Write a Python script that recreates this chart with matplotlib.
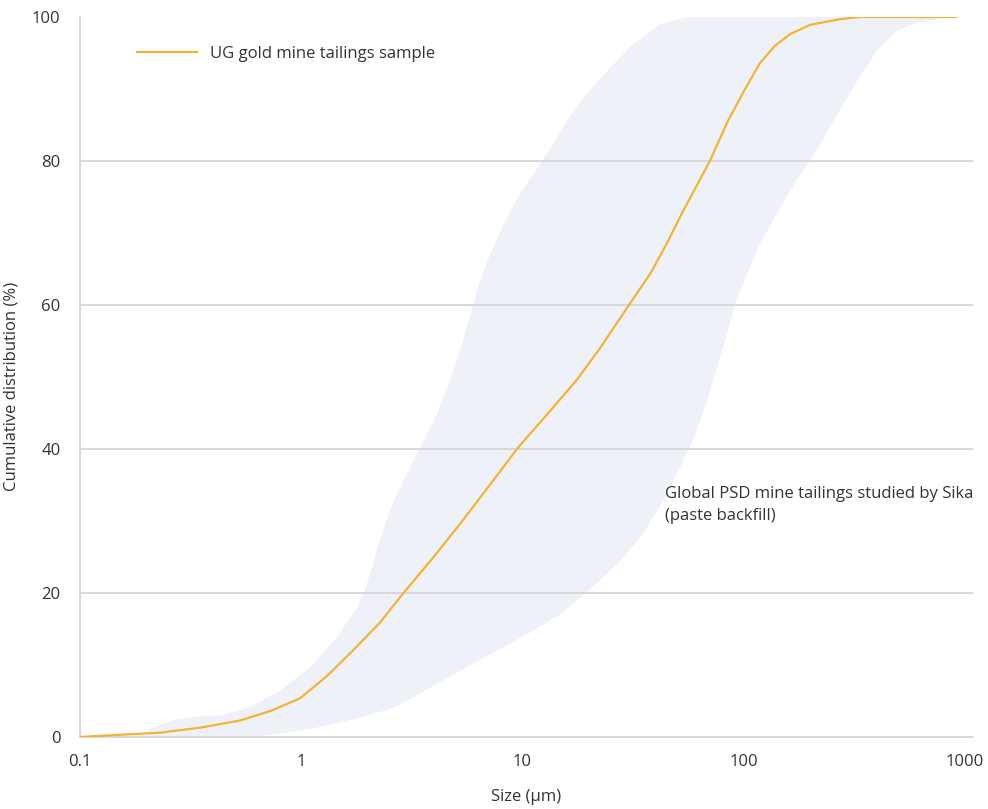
import matplotlib
matplotlib.use("Agg")
import matplotlib.pyplot as plt
import numpy as np

plt.rcParams['font.family'] = ['Open Sans', 'DejaVu Sans']

# UG gold mine tailings sample (size um, cumulative %)
sample_size = [0.1, 0.15, 0.23, 0.35, 0.53, 0.74, 0.99, 1.31, 1.71, 2.27, 2.88, 3.94,
               5.22, 7.36, 9.55, 13.6, 17.6, 22.4, 30.6, 37.9, 45, 53.1, 70.3, 84.9,
               101.4, 118.4, 138.3, 161.7, 199, 272, 335, 913]
sample_cum = [0, 0.3, 0.6, 1.3, 2.3, 3.7, 5.4, 8.5, 12, 15.9, 19.9, 24.9,
              29.6, 35.6, 40.2, 45.6, 49.6, 54, 60.2, 64.4, 68.6, 73, 80, 85.6,
              90, 93.6, 96, 97.6, 98.9, 99.7, 100, 100]

# Global PSD envelope: fine (left) boundary
fine_size = [0.17, 0.19, 0.23, 0.275, 0.35, 0.43, 0.57, 0.78, 1.1, 1.45, 1.63, 1.79, 1.94,
             2.09, 2.22, 2.39, 2.6, 2.88, 3.23, 3.63, 4.11, 4.7, 5.33, 5.85, 6.36, 7.13,
             8.16, 9.54, 11.1, 12.9, 15.9, 19.6, 24.1, 31.6, 41.8, 55.4]
fine_cum = [0, 0.4, 1.8, 2.5, 2.9, 3.0, 4.0, 6.2, 9.7, 13.9, 16.2, 18, 20.5,
            23.5, 26.5, 29.5, 32.5, 35.5, 38.5, 41.5, 45, 49.5, 54.5, 59, 63, 67,
            71, 75, 78, 81, 85.6, 89.4, 92.5, 96.2, 99, 100]
# coarse (right) boundary
coarse_size = [0.6, 0.652, 1.1, 1.85, 2.6, 3.44, 5.22, 7.91, 10.8, 14.8, 20.2, 27.6,
               35.1, 43.2, 51.5, 60.3, 68.3, 75.7, 84.0, 92.2, 102.4, 118.4, 142.8,
               170.6, 199, 233, 272, 325, 400, 493, 607, 855]
coarse_cum = [0, 0.1, 1.1, 2.7, 4.0, 6.0, 9.2, 12.2, 14.5, 17, 20.5, 24.4,
              28.2, 32.8, 37.4, 42, 46.7, 51.3, 56, 60.5, 64, 68.5, 73,
              77, 80, 83.5, 87, 91.1, 95.3, 98.1, 99.2, 100]

x_ticks = [0.1, 1, 10, 100, 1000]
x_tick_labels = ['0.1', '1', '10', '100', '1000']
y_ticks = [0, 20, 40, 60, 80, 100]

fig = plt.figure(figsize=(9.88, 8.09), dpi=100)
ax = fig.add_axes([80/988, 1-737/809, (973-80)/988, (737-17)/809])

poly_x = np.concatenate([fine_size, coarse_size[::-1]])
poly_y = np.concatenate([fine_cum, coarse_cum[::-1]])
ax.fill(poly_x, poly_y, color='#eef2f8', lw=0, zorder=1)

for yv in [20, 40, 60, 80]:
    ax.axhline(yv, color='#d4d6da', lw=1.3, zorder=2)

ax.plot(sample_size, sample_cum, color='#f5b234', lw=1.6, zorder=3,
        label='UG gold mine tailings sample', solid_joinstyle='round')

ax.set_xscale('log')
ax.set_xlim(0.1, 1087)
ax.set_ylim(0, 100)
ax.set_xticks(x_ticks)
ax.set_xticklabels(x_tick_labels)
ax.minorticks_off()
ax.set_yticks(y_ticks)
ax.tick_params(length=0, labelsize=12, colors='#333333', pad=14)
ax.tick_params(axis='x', pad=12)
for s in ['top', 'right']:
    ax.spines[s].set_visible(False)
for s in ['left', 'bottom']:
    ax.spines[s].set_color('#d4d6da')
    ax.spines[s].set_linewidth(1.3)

ax.set_xlabel('Size (µm)', fontsize=12, color='#333333', labelpad=14)
ax.set_ylabel('Cumulative distribution (%)', fontsize=12, color='#333333')
ax.yaxis.set_label_coords(-60/893, 0.4875)

ax.text(44, 34.8, 'Global PSD mine tailings studied by Sika\n(paste backfill)',
        fontsize=12, color='#333333', va='top', ha='left', linespacing=1.45, zorder=4)

leg = ax.legend(loc='upper left', bbox_to_anchor=(42/893, 0.981), frameon=False,
                fontsize=12, handlelength=3.6, handletextpad=0.8, labelcolor='#333333')

fig.savefig('out.png', dpi=100, facecolor='white')
